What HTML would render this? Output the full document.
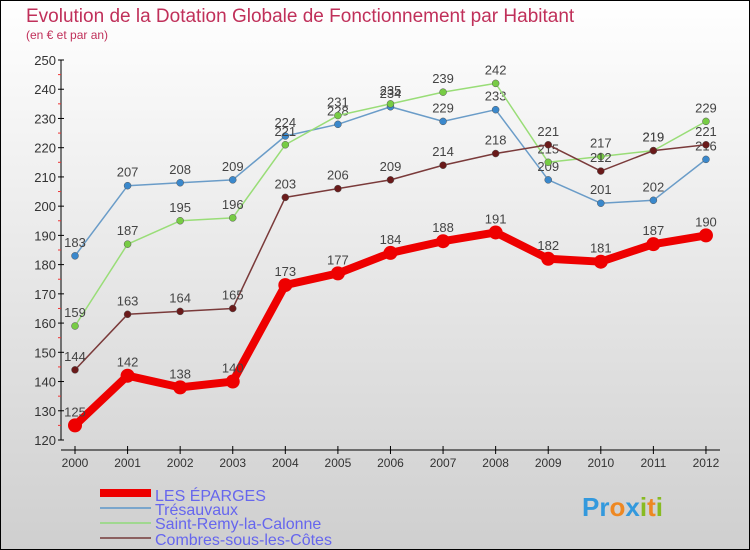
<!DOCTYPE html>
<html><head><meta charset="utf-8"><style>
body{margin:0}
svg{display:block;font-family:"Liberation Sans",sans-serif}
</style></head><body>
<svg width="750" height="550" id="c">
<defs><linearGradient id="bg" x1="0" y1="0" x2="0" y2="1"><stop offset="0" stop-color="#ffffff"/><stop offset="1" stop-color="#cfcfcf"/></linearGradient></defs>
<rect x="0.5" y="0.5" width="749" height="549" fill="url(#bg)" stroke="#000"/>
<text x="26" y="22" font-size="19" fill="#c0305a">Evolution de la Dotation Globale de Fonctionnement par Habitant</text>
<text x="26" y="39" font-size="12" fill="#c0305a">(en € et par an)</text>
<g id="axes"></g><g id="series"></g>
<g>
<rect x="100" y="489" width="51" height="8" fill="#ee0000"/>
<text x="155" y="501" font-size="16" fill="#6666ee">LES ÉPARGES</text>
<rect x="100" y="507" width="51" height="2" fill="#7aa6cc"/>
<text x="155" y="515" font-size="16" fill="#6666ee">Trésauvaux</text>
<rect x="100" y="522" width="51" height="2" fill="#a0d890"/>
<text x="155" y="529" font-size="16" fill="#6666ee">Saint-Remy-la-Calonne</text>
<rect x="100" y="537" width="51" height="2" fill="#8b6060"/>
<text x="155" y="545" font-size="16" fill="#6666ee">Combres-sous-les-Côtes</text>
</g>
<g font-size="26" font-weight="bold">
<text x="582" y="516"><tspan fill="#3399dd">Pr</tspan><tspan fill="#ee8822">o</tspan><tspan fill="#3399dd">x</tspan><tspan fill="#88bb22">i</tspan><tspan fill="#ee8822">t</tspan><tspan fill="#88bb22">i</tspan></text>
</g>
</svg>
<script>
const years=[2000,2001,2002,2003,2004,2005,2006,2007,2008,2009,2010,2011,2012];
const yTicks=[120,130,140,150,160,170,180,190,200,210,220,230,240,250];
const eparges=[125,142,138,140,173,177,184,188,191,182,181,187,190];
const tresauvaux=[183,207,208,209,224,228,234,229,233,209,201,202,216];
const saintRemy=[159,187,195,196,221,231,235,239,242,215,217,219,229];
const combres=[144,163,164,165,203,206,209,214,218,221,212,219,221];
const NS="http://www.w3.org/2000/svg";
const X=i=>75+i*52.58;
const Y=v=>440-(v-120)*(380/130);
function mk(t,a,p){const e=document.createElementNS(NS,t);for(const k in a)e.setAttribute(k,a[k]);(p||document.getElementById('series')).appendChild(e);return e;}
const ax=document.getElementById('axes');
const yl=mk('line',{x1:61,y1:60,x2:61,y2:440,stroke:'#000'},ax);


yTicks.forEach(v=>{
 const t=mk('line',{x1:58,x2:64,y1:Y(v),y2:Y(v),stroke:'#000'},ax);
 
 
 if(v<250){const m=mk('line',{x1:58,x2:61,y1:Y(v+5),y2:Y(v+5),stroke:'#e33'},ax);
 
 }
 const l=mk('text',{x:56,y:Y(v)+5,'font-size':13,fill:'#333','text-anchor':'end'},ax);
 l.textContent=v;
 
 
});
const xl=mk('line',{x1:61,y1:450,x2:720,y2:450,stroke:'#000'},ax);


years.forEach((y,i)=>{
 const t=mk('line',{x1:X(i),x2:X(i),y1:446,y2:454,stroke:'#000'},ax);
 
 
 const l=mk('text',{x:X(i),y:467,'font-size':12,fill:'#333','text-anchor':'middle'},ax);
 l.textContent=y;
 
 
});
function series(d,name,col,dot,w,r){
 const pts=d.map((v,i)=>X(i)+','+Y(v)).join(' ');
 const p=mk('polyline',{points:pts,fill:'none',stroke:col,'stroke-width':w,'stroke-linejoin':'round'});
 
 
 d.forEach((v,i)=>{
  const c=mk('circle',{cx:X(i),cy:Y(v),r:r,fill:dot,stroke:w>3?'none':'#555','stroke-width':0.5});
  
  
  const t=mk('text',{x:X(i),y:Y(v)-9,'font-size':13,fill:'#444','text-anchor':'middle'});
  t.textContent=v;
  
  
 });
}
series(tresauvaux,'tresauvaux','#6a9cc8','#3a88cc',1.5,3.5);
series(saintRemy,'saint-remy','#99dd77','#77cc44',1.5,3.5);
series(combres,'combres','#7a3a3a','#6a1a1a',1.5,3.5);
series(eparges,'les-eparges','#ee0000','#ee0000',8,7);
</script>
</body></html>
